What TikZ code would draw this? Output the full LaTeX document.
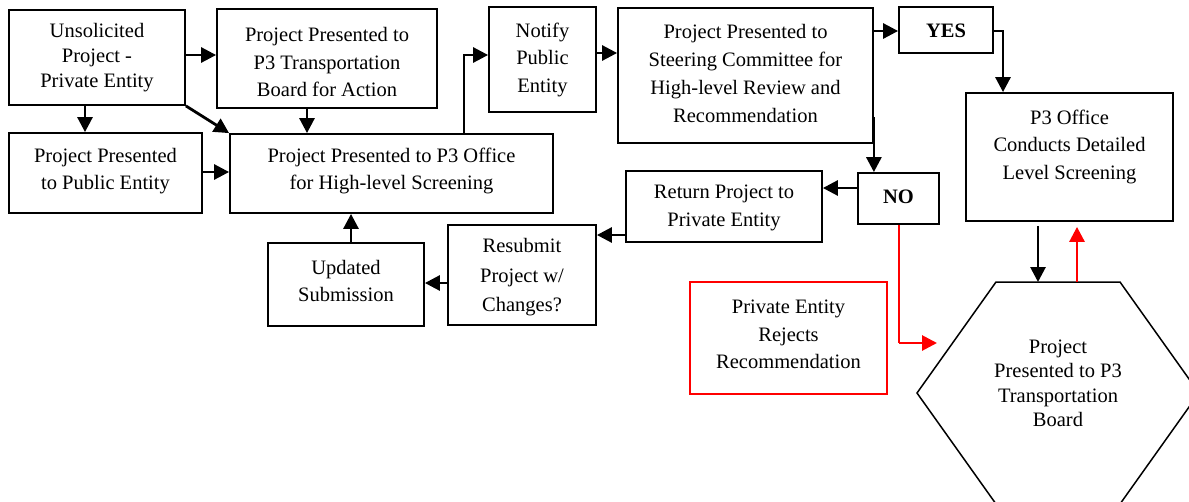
\documentclass[tikz,border=0pt]{standalone}
\usepackage{fontspec}
\setmainfont{Liberation Serif}
\usetikzlibrary{arrows.meta}
\begin{document}
\begin{tikzpicture}[x=1pt,y=-1pt,
  box/.style={draw, line width=1.8pt, inner sep=0pt},
  rbox/.style={draw=red, line width=1.8pt, inner sep=0pt},
  txt/.style={align=center, font=\fontsize{20.5}{27.5}\selectfont, inner sep=0pt},
  arr/.style={line width=2.8pt, -{Triangle[length=15pt,width=15pt]}},
  rarr/.style={draw=red, line width=2.8pt, -{Triangle[length=15pt,width=15pt]}},
  rthin/.style={draw=red, line width=1.2pt}
]
\useasboundingbox (0,0) rectangle (1189,501);
\clip (0,0) rectangle (1189,501);

% boxes
\node[box, minimum width=176pt, minimum height=95pt] (A) at (97,57.5) {};
\node[box, minimum width=220pt, minimum height=99pt] (B) at (327,58.5) {};
\node[box, minimum width=193pt, minimum height=80pt] (C) at (105.5,173) {};
\node[box, minimum width=323pt, minimum height=79pt] (D) at (391.5,173.5) {};
\node[box, minimum width=107pt, minimum height=105pt] (E) at (542.5,59.5) {};
\node[box, minimum width=255pt, minimum height=135pt] (F) at (745.5,75.5) {};
\node[box, minimum width=94pt, minimum height=46pt] (Y) at (946,30) {};
\node[box, minimum width=207pt, minimum height=128pt] (G) at (1069.5,157) {};
\node[box, minimum width=81pt, minimum height=51pt] (N) at (898.5,198.5) {};
\node[box, minimum width=196pt, minimum height=71pt] (R) at (724,206.5) {};
\node[box, minimum width=148pt, minimum height=100pt] (S) at (522,275) {};
\node[box, minimum width=156pt, minimum height=83pt] (U) at (346,284.5) {};
\node[rbox, minimum width=197pt, minimum height=112pt] (P) at (788.5,338) {};

% hexagon
\coordinate (Htl) at (996,282);
\coordinate (Htr) at (1120,282);
\coordinate (Hr) at (1199,393);
\coordinate (Hbr) at (1120,504);
\coordinate (Hbl) at (996,504);
\coordinate (Hl) at (917,393);
\draw[line width=1.5pt] (Htl) -- (Htr) -- (Hr) -- (Hbr) -- (Hbl) -- (Hl) -- cycle;

% texts
\node[txt, font=\fontsize{20.5}{25}\selectfont] (At) at (97,57.5) {Unsolicited\\Project -\\Private Entity};
\node[txt] (Bt) at (327,62) {Project Presented to\\P3 Transportation\\Board for Action};
\node[txt] (Ct) at (105.5,171) {Project Presented\\to Public Entity};
\node[txt] (Dt) at (391.5,171) {Project Presented to P3 Office\\for High-level Screening};
\node[txt] (Et) at (542.5,59.5) {Notify\\Public\\Entity};
\node[txt, font=\fontsize{20.5}{28}\selectfont] (Ft) at (745.5,73) {Project Presented to\\Steering Committee for\\High-level Review and\\Recommendation};
\node[txt, font=\fontsize{20.5}{27}\selectfont\bfseries] (Yt) at (946,31) {YES};
\node[txt] (Gt) at (1069.5,146.5) {P3 Office\\Conducts Detailed\\Level Screening};
\node[txt, font=\fontsize{20.5}{27}\selectfont\bfseries] (Nt) at (898.5,197) {NO};
\node[txt] (Rt) at (724,208) {Return Project to\\Private Entity};
\node[txt, font=\fontsize{20.5}{29.5}\selectfont] (St) at (522,277.5) {Resubmit\\Project w/\\Changes?};
\node[txt] (Ut) at (346,281) {Updated\\Submission};
\node[txt] (Pt) at (788.5,334.5) {Private Entity\\Rejects\\Recommendation};
\node[txt, font=\fontsize{20.5}{24.5}\selectfont] (Ht) at (1058,383.5) {Project\\Presented to P3\\Transportation\\Board};

% connectors
\draw[arr] ([yshift=2.5pt]A.east) -- ([yshift=2.5pt]A.east -| B.west);
\draw[arr] ([xshift=-12pt]A.south) -- ([xshift=-12pt]A.south |- C.north);
\draw[arr] (A.south east) -- (D.north west);
\draw[arr] ([xshift=-20pt]B.south) -- ([xshift=-20pt]B.south |- D.north);
\draw[arr] ([yshift=1pt]C.east) -- ([yshift=1pt]C.east -| D.west);
\draw[arr] ([xshift=72.5pt]D.north) |- ([yshift=4.5pt]E.west);
\draw[arr] ([yshift=6.5pt]E.east) -- ([yshift=6.5pt]E.east -| F.west);
\draw[arr] ([yshift=-1pt]Y.west -| F.east) -- ([yshift=-1pt]Y.west);
\draw[arr] ([yshift=-1pt]Y.east) -| ([xshift=-66.5pt]G.north);
\coordinate (fn) at ([yshift=-41.5pt]F.east);
\draw[arr] (fn) -- (fn |- N.north);
\draw[arr] ([yshift=10.5pt]N.west) -- ([yshift=10.5pt]N.west -| R.east);
\draw[arr] ([yshift=-28.5pt]R.west) -- ([yshift=-28.5pt]R.west -| S.east);
\draw[arr] ([yshift=-8pt]S.west) -- ([yshift=-8pt]S.west -| U.east);
\draw[arr] ([xshift=5pt]U.north) -- ([xshift=5pt]U.north |- D.south);
\draw[arr] ([xshift=-31.5pt,yshift=-4pt]G.south) -- ([xshift=-31.5pt]G.south |- Htl);
\draw[rarr] ([xshift=7.5pt]G.south |- Htl) -- ([xshift=7.5pt,yshift=-5pt]G.south);
\coordinate (nr) at (899,343);
\coordinate (ht) at (937,343);
\draw[rthin] ([xshift=0.5pt]N.south) -- (nr);
\draw[rarr] (nr) -- (ht);
\end{tikzpicture}
\end{document}
